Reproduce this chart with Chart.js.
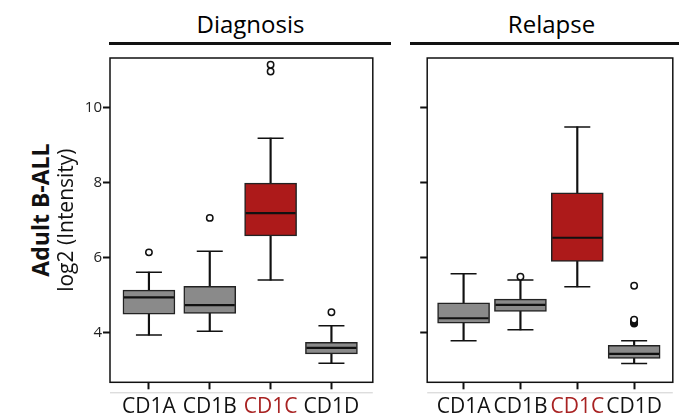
<!DOCTYPE html>
<html>
<head>
<meta charset="utf-8">
<script src="https://cdn.jsdelivr.net/npm/chart.js@4.4.1/dist/chart.umd.min.js"></script>
<style>
  html, body { margin: 0; padding: 0; background: #fff; }
  body { width: 679px; height: 416px; overflow: hidden; position: relative; font-family: "Open Sans", sans-serif; color: #111; }
  .wrap { position: absolute; top: 0; height: 416px; }
  #wrap1 { left: 0; width: 400px; }
  #wrap2 { left: 400px; width: 300px; }
  .head { position: absolute; top: 10px; height: 28px; line-height: 28px; font-size: 24px; text-align: center; color: #000; }
  .rule { position: absolute; top: 42px; height: 3px; background: #111; }
  #ytitle { position: absolute; left: -60px; top: 197px; width: 200px; height: 26px; line-height: 26px;
            font-size: 23px; font-weight: bold; text-align: center; transform: rotate(-90deg); }
</style>
</head>
<body>
<div class="head" style="left:110px;width:281px;">Diagnosis</div>
<div class="head" style="left:411px;width:281px;">Relapse</div>
<div class="rule" style="left:109px;width:282px;"></div>
<div class="rule" style="left:410px;width:290px;"></div>
<div id="ytitle">Adult B-ALL</div>
<div class="wrap" id="wrap1"><canvas id="diag"></canvas></div>
<div class="wrap" id="wrap2"><canvas id="rel"></canvas></div>
<script>
const categories = ['CD1A', 'CD1B', 'CD1C', 'CD1D'];
const yTicks = [4, 6, 8, 10];

// Diagnosis
const diagLow = [3.93, 4.03, 5.40, 3.18];
const diagQ1 = [4.49, 4.51, 6.58, 3.43];
const diagMedian = [4.94, 4.73, 7.19, 3.59];
const diagQ3 = [5.13, 5.23, 7.99, 3.74];
const diagHigh = [5.61, 6.17, 9.19, 4.18];
const diagOutliers = [[6.14], [7.06], [10.97, 11.15], [4.54]];

// Relapse
const relLow = [3.78, 4.07, 5.22, 3.17];
const relQ1 = [4.25, 4.56, 5.90, 3.31];
const relMedian = [4.38, 4.74, 6.53, 3.43];
const relQ3 = [4.79, 4.89, 7.73, 3.66];
const relHigh = [5.57, 5.40, 9.49, 3.78];
const relOutliers = [[], [5.49], [], [4.24, 4.26, 4.28, 4.30, 4.32, 4.34, 5.25]];

const boxColors = ['#8a8a8a', '#8a8a8a', '#ad1a1a', '#8a8a8a'];
const labelColors = ['#111', '#111', '#a82222', '#111'];

// border round the plot area + thin grey rule under the x ticks
const framePlugin = {
  id: 'frame',
  afterDraw(chart) {
    const { ctx, chartArea: a } = chart;
    ctx.save();
    ctx.strokeStyle = '#111';
    ctx.lineWidth = 1.5;
    ctx.strokeRect(a.left, a.top, a.right - a.left, a.bottom - a.top);
    ctx.strokeStyle = '#cfcfcf';
    ctx.lineWidth = 1;
    ctx.beginPath();
    ctx.moveTo(a.left, a.bottom + 10.5);
    ctx.lineTo(a.right, a.bottom + 10.5);
    ctx.stroke();
    ctx.restore();
  }
};

function makePanel(id, low, q1, med, q3, high, outliers, first) {
  const idx = categories.map((c, i) => i);
  const outPts = [];
  outliers.forEach((arr, i) => arr.forEach(v => outPts.push({ x: i, y: v })));

  new Chart(document.getElementById(id), {
    type: 'bar',
    data: {
      datasets: [
        {
          type: 'scatter', order: 0,
          data: outPts,
          pointStyle: 'circle', pointRadius: 3.2,
          backgroundColor: '#fff', borderColor: '#111', borderWidth: 1.5
        },
        {
          type: 'scatter', order: 1,
          data: idx.map(i => ({ x: i, y: med[i] })),
          pointStyle: 'line', pointRadius: 25, borderColor: '#111', borderWidth: 2.2
        },
        {
          type: 'scatter', order: 1,
          data: idx.map(i => ({ x: i, y: low[i] })).concat(idx.map(i => ({ x: i, y: high[i] }))),
          pointStyle: 'line', pointRadius: 13, borderColor: '#111', borderWidth: 1.5
        },
        {
          order: 2,
          data: idx.map(i => ({ x: i, y: [q1[i], q3[i]] })),
          backgroundColor: boxColors, borderColor: '#222', borderWidth: 1.5,
          borderSkipped: false, barThickness: 52, grouped: false
        },
        {
          order: 3,
          data: idx.map(i => ({ x: i, y: [low[i], high[i]] })),
          backgroundColor: '#111', borderWidth: 0,
          barThickness: 1.5, grouped: false
        }
      ]
    },
    options: {
      responsive: true,
      maintainAspectRatio: false,
      animation: false,
      layout: { padding: { top: 58, right: first ? 9.3 : 8.6, left: 0, bottom: 0 } },
      plugins: { legend: { display: false }, tooltip: { enabled: false } },
      scales: {
        x: {
          type: 'linear', min: -0.64, max: 3.68, offset: false,
          afterBuildTicks: s => { s.ticks = idx.map(i => ({ value: i })); },
          afterFit: s => { s.height = 33.7; },
          grid: { offset: false, drawOnChartArea: false, drawTicks: true, tickLength: 7, tickWidth: 2, tickColor: '#111' },
          border: { display: false },
          ticks: {
            padding: 5,
            font: { family: 'Open Sans', size: 21 },
            color: c => labelColors[c.index],
            callback: v => categories[v]
          }
        },
        y: {
          min: 2.67, max: 11.33,
          afterBuildTicks: s => { s.ticks = yTicks.map(v => ({ value: v })); },
          afterFit: s => { s.width = first ? 110 : 10.7; },
          grid: { offset: false, drawOnChartArea: false, drawTicks: true, tickLength: 7, tickWidth: 2, tickColor: '#111' },
          border: { display: false },
          ticks: {
            display: first, padding: 1,
            font: { family: 'Open Sans', size: 15 }, color: '#222'
          },
          title: {
            display: first, text: 'log2 (Intensity)', color: '#111',
            font: { family: 'Open Sans', size: 21 },
            padding: { top: 54, bottom: 0 }
          }
        }
      }
    },
    plugins: [framePlugin]
  });
}

makePanel('diag', diagLow, diagQ1, diagMedian, diagQ3, diagHigh, diagOutliers, true);
makePanel('rel', relLow, relQ1, relMedian, relQ3, relHigh, relOutliers, false);
</script>
</body>
</html>
